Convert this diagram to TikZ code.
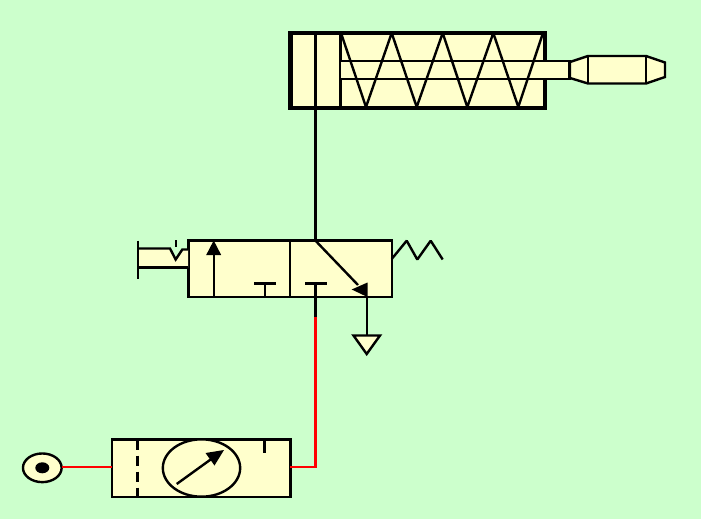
\documentclass[tikz,border=0pt]{standalone}
\usetikzlibrary{shapes.geometric}
\definecolor{bggreen}{HTML}{CCFFCC}
\definecolor{cream}{HTML}{FFFFCC}
\definecolor{pipe}{HTML}{FF0000}
\tikzset{
  every node/.style={outer sep=0pt},
  sym/.style={draw=black,line width=1.8pt,fill=cream,line join=miter},
  ln/.style={draw=black,line width=1.8pt},
  heavy/.style={draw=black,line width=3pt,fill=cream},
  head/.style={fill=black,draw=none},
  redpipe/.style={draw=pipe,line width=2.2pt,line join=miter},
  port/.style={draw=black,line width=1.8pt,fill=cream,ellipse,inner sep=0pt,minimum width=29pt,minimum height=21.5pt},
}
\begin{document}
\begin{tikzpicture}[x=0.75pt,y=-0.75pt]
\path[use as bounding box,fill=bggreen] (0,0) rectangle (701,519);
% cylinder
\draw[heavy] (290,32.5) rectangle (544.5,107.5);
\fill[black] (288,30.5) rectangle (293,109.5);
\coordinate (pistonTop) at (315.5,33);
\coordinate (pistonLow) at (315.5,240.5);
\draw[ln] (pistonTop) -- (pistonLow);
\draw[ln] (340.5,33) -- (340.5,107);
% rod
\draw[sym] (340.5,61) -- (569.5,61) -- (569.5,79) -- (340.5,79);
% spring
\draw[ln,line join=bevel] (341,33) -- (366,107) -- (391.7,33) -- (416.7,107) -- (442.7,33) -- (467.3,107) -- (493.3,33) -- (518.3,107) -- (543,33);
% rod tip
\draw[sym] (570,62) -- (588,56) -- (646,56) -- (665,62.5) -- (665,77) -- (646,83.5) -- (588,83.5) -- (570,78) -- cycle;
\draw[ln] (588,56) -- (588,83.5);
\draw[ln] (646,56) -- (646,83.5);
% valve
\node[draw=black,line width=1.8pt,fill=cream,minimum width=152.5pt,minimum height=42.5pt,inner sep=0pt,anchor=north west] (valve) at (188.5,240.5) {};
\draw[ln] (290,240.5) -- (290,297);
% actuator left
\fill[cream] (138,248.5) -- (170,248.5) -- (175.7,259.5) -- (182.3,249.5) -- (188,249.5) -- (188,267.5) -- (138,267.5) -- cycle;
\draw[ln,line join=miter] (138,248.5) -- (170,248.5) -- (175.7,259.5) -- (182.3,249.5) -- (188,249.5);
\draw[ln] (138,267.5) -- (188,267.5);
\draw[ln] (137.7,240.5) -- (137.7,278.5);
\draw[ln,line width=1.3pt] (175.7,240) -- (175.7,246.5);
% return spring
\draw[ln,line join=bevel] (391.7,259) -- (406.7,240.7) -- (417.3,259.5) -- (430.7,240.7) -- (442.7,259.5);
% up arrow
\draw[ln] (213.7,297) -- (213.7,250);
\fill[head] (213.7,240.5) -- (221.2,255) -- (206.2,255) -- cycle;
% T ports
\draw[ln] (264.7,297) -- (264.7,283.5);
\draw[ln] (254,283.5) -- (275.7,283.5);
\draw[ln] (315.5,297) -- (315.5,283.5);
\draw[ln] (305,283.5) -- (326.7,283.5);
% diagonal
\draw[ln] (315.5,240.7) -- (358,285);
\fill[head] (351.7,289.5) -- (367.5,282.5) -- (367.5,297) -- cycle;
% exhaust
\coordinate (exhTop) at (366.7,297);
\coordinate (exhLow) at (366.7,335.5);
\draw[ln] (exhTop) -- (exhLow);
\draw[sym] (353.5,335.5) -- (380,335.5) -- (366.7,354) -- cycle;
% meter unit
\node[draw=black,line width=1.8pt,fill=cream,minimum width=134pt,minimum height=43pt,inner sep=0pt,anchor=north west] (unit) at (111.7,439.5) {};
\draw[ln,dash pattern=on 7.5pt off 4.5pt] (137.3,439.5) -- (137.3,497);
\node[draw=black,line width=1.8pt,fill=cream,ellipse,inner sep=0pt,minimum width=58pt,minimum height=43pt] (gauge) at (201.5,468) {};
\draw[ln] (176.7,484) -- (212,458.5);
\fill[head] (224,450) -- (214.5,465.5) -- (205.5,453) -- cycle;
\draw[ln] (264.3,439.5) -- (264.3,453);
% source
\node[port] (source) at (42.3,467.8) {};
\fill[black] (source.center) ellipse (7 and 5.5);
% pipes
\coordinate (bend) at (315.5,467);
\coordinate (redTop) at (315.5,317);
\coordinate (valveIn) at (315.5,297);
\draw[ln] (valveIn) -- (redTop);
\draw[redpipe] (source.east |- bend) -- (unit.west |- bend);
\draw[redpipe] (unit.east |- bend) -- (bend) -- (redTop);
\end{tikzpicture}
\end{document}
